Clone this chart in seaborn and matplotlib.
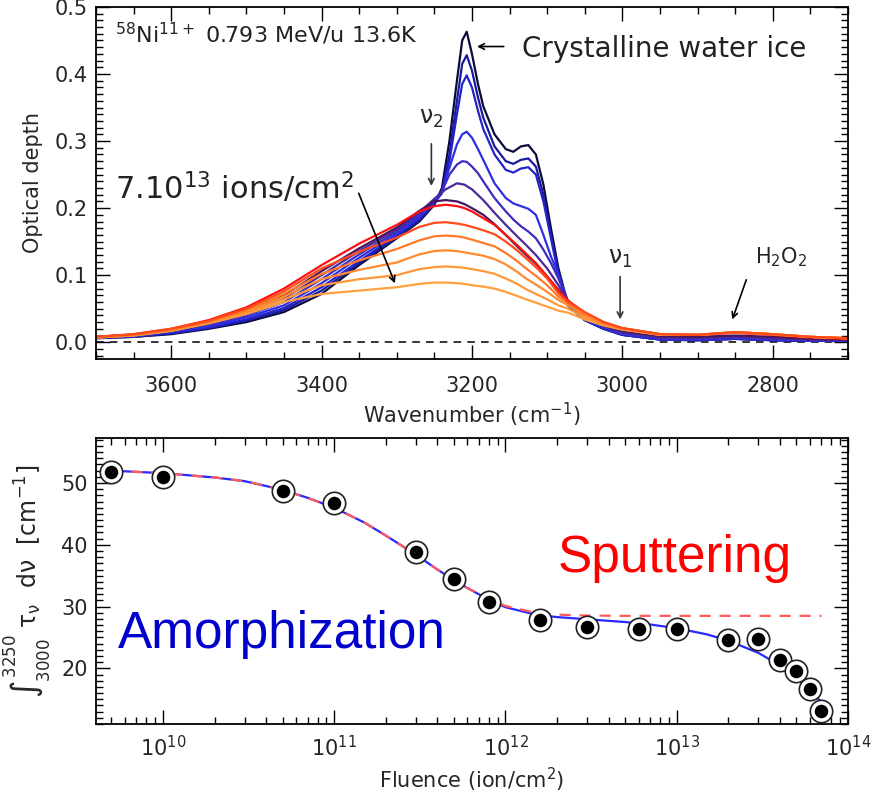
import numpy as np
import pandas as pd
import matplotlib
matplotlib.use("Agg")
import matplotlib.pyplot as plt
from matplotlib.ticker import MultipleLocator, LogLocator, NullFormatter, FormatStrFormatter
import seaborn as sns

# ---------------- data: top panel (optical depth spectra) ----------------
# grid for the amorphous / irradiated spectra
wavenumber = [3700, 3650, 3600, 3550, 3500, 3450, 3400, 3350, 3300, 3270,
              3250, 3235, 3220, 3210, 3200, 3185, 3170, 3155, 3140, 3128,
              3115, 3100, 3085, 3072, 3050, 3025, 3000, 2950, 2900, 2850,
              2800, 2750, 2700]
# finer grid for the crystalline spectra (sharp peak at 3210)
wavenumber_cryst = [3700, 3650, 3600, 3550, 3500, 3450, 3400, 3350, 3300, 3270,
                    3250, 3240, 3230, 3220, 3213, 3207, 3200, 3192, 3185, 3170,
                    3155, 3145, 3135, 3125, 3115, 3105, 3095, 3085, 3072, 3050,
                    3025, 3000, 2950, 2900, 2850, 2800, 2750, 2700]

od_c1 = [0.006, 0.008, 0.012, 0.020, 0.030, 0.045, 0.072, 0.115, 0.155, 0.180,
         0.205, 0.230, 0.300, 0.390, 0.450, 0.463, 0.430, 0.385, 0.352, 0.310,
         0.288, 0.284, 0.292, 0.294, 0.280, 0.235, 0.170, 0.110, 0.055, 0.033,
         0.020, 0.011, 0.004, 0.003, 0.005, 0.003, 0.002, 0.002]
od_c2 = [0.006, 0.008, 0.013, 0.021, 0.032, 0.048, 0.077, 0.118, 0.157, 0.182,
         0.207, 0.225, 0.280, 0.360, 0.415, 0.428, 0.405, 0.365, 0.335, 0.292,
         0.270, 0.266, 0.272, 0.274, 0.262, 0.220, 0.160, 0.105, 0.055, 0.033,
         0.020, 0.011, 0.004, 0.003, 0.005, 0.003, 0.002, 0.002]
od_c3 = [0.007, 0.009, 0.014, 0.022, 0.034, 0.051, 0.082, 0.121, 0.159, 0.184,
         0.208, 0.222, 0.270, 0.340, 0.385, 0.398, 0.380, 0.345, 0.318, 0.280,
         0.257, 0.253, 0.259, 0.261, 0.250, 0.210, 0.155, 0.100, 0.055, 0.033,
         0.020, 0.011, 0.004, 0.003, 0.005, 0.003, 0.002, 0.002]
od_c4 = [0.007, 0.009, 0.015, 0.024, 0.037, 0.055, 0.088, 0.126, 0.162, 0.187,
         0.210, 0.225, 0.260, 0.295, 0.310, 0.314, 0.305, 0.288, 0.272, 0.237,
         0.215, 0.207, 0.203, 0.199, 0.190, 0.160, 0.128, 0.100, 0.060, 0.034,
         0.021, 0.012, 0.005, 0.004, 0.006, 0.004, 0.003, 0.002]
od_c5 = [0.007, 0.010, 0.016, 0.026, 0.040, 0.060, 0.094, 0.131, 0.165, 0.190,
         0.212, 0.225, 0.250, 0.265, 0.270, 0.269, 0.262, 0.252, 0.240, 0.215,
         0.195, 0.183, 0.173, 0.165, 0.155, 0.138, 0.118, 0.095, 0.060, 0.035,
         0.022, 0.013, 0.006, 0.005, 0.007, 0.005, 0.003, 0.003]
od_c6 = [0.008, 0.011, 0.017, 0.028, 0.043, 0.065, 0.100, 0.136, 0.168, 0.193,
         0.214, 0.228, 0.237, 0.235, 0.228, 0.212, 0.193, 0.175, 0.158, 0.145,
         0.130, 0.110, 0.085, 0.060, 0.037, 0.024, 0.015, 0.007, 0.006, 0.008,
         0.006, 0.004, 0.003]
od_c7 = [0.008, 0.011, 0.018, 0.030, 0.046, 0.070, 0.106, 0.140, 0.171, 0.196,
         0.210, 0.212, 0.210, 0.206, 0.200, 0.190, 0.176, 0.160, 0.143, 0.130,
         0.117, 0.098, 0.078, 0.060, 0.039, 0.026, 0.017, 0.009, 0.008, 0.010,
         0.008, 0.005, 0.004]
od_red = [0.008, 0.012, 0.020, 0.033, 0.052, 0.080, 0.115, 0.147, 0.175, 0.195,
          0.203, 0.205, 0.203, 0.200, 0.195, 0.185, 0.175, 0.160, 0.145, 0.132,
          0.118, 0.098, 0.077, 0.062, 0.044, 0.030, 0.021, 0.012, 0.011, 0.014,
          0.011, 0.007, 0.005]
od_or1 = [0.008, 0.012, 0.020, 0.032, 0.050, 0.076, 0.110, 0.135, 0.156, 0.172,
          0.178, 0.179, 0.177, 0.175, 0.172, 0.167, 0.161, 0.150, 0.137, 0.125,
          0.112, 0.095, 0.073, 0.060, 0.045, 0.030, 0.021, 0.012, 0.011, 0.015,
          0.012, 0.008, 0.006]
od_or2 = [0.008, 0.011, 0.019, 0.031, 0.048, 0.072, 0.102, 0.122, 0.139, 0.152,
          0.158, 0.159, 0.158, 0.156, 0.153, 0.148, 0.143, 0.133, 0.121, 0.110,
          0.099, 0.085, 0.068, 0.058, 0.043, 0.029, 0.021, 0.012, 0.011, 0.015,
          0.012, 0.008, 0.006]
od_or3 = [0.007, 0.011, 0.018, 0.030, 0.046, 0.068, 0.094, 0.108, 0.119, 0.131,
          0.136, 0.137, 0.136, 0.134, 0.132, 0.129, 0.124, 0.116, 0.105, 0.095,
          0.086, 0.075, 0.063, 0.055, 0.040, 0.028, 0.020, 0.012, 0.011, 0.015,
          0.012, 0.008, 0.006]
od_or4 = [0.007, 0.010, 0.017, 0.029, 0.044, 0.064, 0.085, 0.094, 0.100, 0.109,
          0.112, 0.113, 0.112, 0.111, 0.109, 0.106, 0.102, 0.095, 0.087, 0.079,
          0.072, 0.064, 0.055, 0.050, 0.037, 0.026, 0.019, 0.011, 0.011, 0.015,
          0.012, 0.008, 0.006]
od_or5 = [0.007, 0.010, 0.017, 0.028, 0.042, 0.060, 0.072, 0.077, 0.082, 0.087,
          0.089, 0.089, 0.088, 0.087, 0.085, 0.083, 0.080, 0.075, 0.069, 0.064,
          0.059, 0.053, 0.047, 0.044, 0.034, 0.025, 0.019, 0.011, 0.011, 0.015,
          0.012, 0.008, 0.006]

spectra = [
    (wavenumber_cryst, od_c1, "#0b0b3b"), (wavenumber_cryst, od_c2, "#1a1a9c"),
    (wavenumber_cryst, od_c3, "#2323c8"), (wavenumber_cryst, od_c4, "#2e2ee6"),
    (wavenumber_cryst, od_c5, "#3a2cc4"), (wavenumber, od_c6, "#4a2a9a"),
    (wavenumber, od_c7, "#4a1560"), (wavenumber, od_red, "#ff1010"),
    (wavenumber, od_or5, "#ffa040"), (wavenumber, od_or4, "#ff9838"),
    (wavenumber, od_or3, "#ff8a30"), (wavenumber, od_or2, "#ff7a28"),
    (wavenumber, od_or1, "#ff4a1a"),
]

# ---------------- data: bottom panel (integrated band vs fluence) ----------------
fluence = [5e9, 1e10, 5e10, 1e11, 3e11, 5e11, 8e11, 1.6e12, 3e12, 6e12, 1e13,
           2e13, 3e13, 4e13, 5e13, 6e13, 7e13]
band_area = [51.8, 51.0, 48.75, 46.8, 38.8, 34.4, 30.8, 27.9, 26.7, 26.45, 26.3,
             24.55, 24.8, 21.4, 19.6, 16.6, 13.05]

fit_fluence = [5e9, 1e10, 2e10, 3e10, 5e10, 7e10, 1e11, 1.5e11, 2e11, 3e11, 4e11,
               5e11, 6e11, 8e11, 1e12, 1.5e12, 2e12, 3e12, 5e12, 7e12, 1e13,
               1.5e13, 2e13, 3e13, 4e13, 5e13, 6e13, 7e13]
fit_amorph = [52.0, 51.6, 50.9, 50.3, 48.9, 47.6, 46.0, 43.6, 41.5, 38.4, 36.0,
              34.3, 33.0, 31.2, 30.1, 29.0, 28.7, 28.55, 28.5, 28.5, 28.5,
              28.5, 28.5, 28.5, 28.5, 28.5, 28.5, 28.5]
fit_total = [52.0, 51.6, 50.9, 50.3, 48.9, 47.6, 46.0, 43.6, 41.5, 38.4, 36.0,
             34.3, 33.0, 31.1, 29.9, 28.7, 28.3, 27.95, 27.5, 27.1, 26.5,
             25.5, 24.5, 22.5, 20.5, 18.5, 16.5, 14.5]

# ---------------- style ----------------
sns.set_style("ticks")
plt.rcParams["font.family"] = ["DejaVu Sans"]
plt.rcParams["mathtext.default"] = "regular"
plt.rcParams["axes.linewidth"] = 1.3

fig = plt.figure(figsize=(8.78, 7.99), dpi=100)
ax1 = fig.add_axes([0.1093, 0.5507, 0.8565, 0.4406])
ax2 = fig.add_axes([0.1093, 0.0939, 0.8565, 0.358])

# ---------------- top panel ----------------
for wn, vals, col in spectra:
    df = pd.DataFrame({"wn": wn, "od": vals})
    sns.lineplot(data=df, x="wn", y="od", color=col, lw=1.6, ax=ax1,
                 legend=False, estimator=None)
ax1.axhline(0, color="black", lw=1.1, ls=(0, (5, 4)), zorder=1)
ax1.set_xlim(3700, 2700)
ax1.set_ylim(-0.025, 0.5)
ax1.xaxis.set_major_locator(MultipleLocator(200))
ax1.xaxis.set_minor_locator(MultipleLocator(50))
ax1.yaxis.set_major_locator(MultipleLocator(0.1))
ax1.yaxis.set_minor_locator(MultipleLocator(0.01))
ax1.yaxis.set_major_formatter(FormatStrFormatter("%.1f"))
ax1.set_xlabel("Wavenumber (cm$^{-1}$)", fontsize=15, labelpad=4)
ax1.set_ylabel("Optical depth", fontsize=15, labelpad=8)

ax1.text(3675, 0.446, "$^{58}$Ni$^{11+}$ 0.793 MeV/u 13.6K", fontsize=16,
         va="baseline", ha="left", color="#222222")
ax1.annotate("", xy=(3197, 0.441), xytext=(3154, 0.441),
             arrowprops=dict(arrowstyle="->", lw=1.2, color="black"))
ax1.text(3134, 0.426, "Crystalline water ice", fontsize=20, va="baseline",
         ha="left", color="#222222")
ax1.text(3675, 0.2125, "7.10$^{13}$ ions/cm$^{2}$", fontsize=22, va="baseline",
         ha="left", color="#222222")
ax1.annotate("", xy=(3301, 0.084), xytext=(3352, 0.226),
             arrowprops=dict(arrowstyle="->", lw=1.2, color="black"))
ax1.text(3254, 0.325, r"$\nu_2$", fontsize=17, va="baseline", ha="center")
ax1.annotate("", xy=(3254, 0.229), xytext=(3254, 0.300),
             arrowprops=dict(arrowstyle="->", lw=1.2, color="#333333"))
ax1.text(3003, 0.117, r"$\nu_1$", fontsize=17, va="baseline", ha="center")
ax1.annotate("", xy=(3003, 0.030), xytext=(3003, 0.102),
             arrowprops=dict(arrowstyle="->", lw=1.2, color="#333333"))
ax1.text(2824, 0.117, "H$_2$O$_2$", fontsize=15, va="baseline", ha="left")
ax1.annotate("", xy=(2855, 0.030), xytext=(2834, 0.097),
             arrowprops=dict(arrowstyle="->", lw=1.2, color="black"))

# ---------------- bottom panel ----------------
ax2.set_xscale("log")
dfit = pd.DataFrame({"F": fit_fluence, "tot": fit_total, "am": fit_amorph})
sns.lineplot(data=dfit, x="F", y="tot", color="#2828ff", lw=1.6, ax=ax2,
             legend=False, estimator=None, zorder=3)
sns.lineplot(data=dfit, x="F", y="am", color="#ff5a5a", lw=1.6, ax=ax2,
             legend=False, estimator=None, zorder=3)
ax2.lines[-1].set_linestyle((0, (5, 4)))
dpts = pd.DataFrame({"F": fluence, "A": band_area})
sns.scatterplot(data=dpts, x="F", y="A", s=260, marker="o", facecolor="white",
                edgecolor="#222222", linewidth=1.2, ax=ax2, zorder=4, legend=False)
sns.scatterplot(data=dpts, x="F", y="A", s=95, marker="o", color="black",
                edgecolor="black", linewidth=0, ax=ax2, zorder=5, legend=False)
ax2.set_xlim(4.06e9, 1e14)
ax2.set_ylim(11, 57.3)
ax2.xaxis.set_major_locator(LogLocator(base=10, numticks=10))
ax2.xaxis.set_minor_locator(LogLocator(base=10, subs=np.arange(2, 10), numticks=20))
ax2.xaxis.set_minor_formatter(NullFormatter())
ax2.yaxis.set_major_locator(MultipleLocator(10))
ax2.yaxis.set_minor_locator(MultipleLocator(1))
ax2.set_xlabel("Fluence (ion/cm$^2$)", fontsize=15, labelpad=4)
ax2.set_ylabel(r"$\int_{3000}^{3250}\ \tau_\nu\ \ d\nu\ \ [cm^{-1}]$", fontsize=17,
               labelpad=6)

ax2.text(5.46e9, 23.26, "Amorphization", fontsize=37, color="#0000cc",
         family=["Liberation Sans", "DejaVu Sans"], va="baseline", ha="left")
ax2.text(2.01e12, 35.6, "Sputtering", fontsize=37, color="#ff0000",
         family=["Liberation Sans", "DejaVu Sans"], va="baseline", ha="left")

for ax in (ax1, ax2):
    ax.tick_params(which="both", direction="in", top=True, right=True,
                   labelsize=15, color="black", width=1.0)
    ax.tick_params(which="major", length=10)
    ax.tick_params(which="minor", length=5)
    for sp in ax.spines.values():
        sp.set_color("black")
ax1.tick_params(axis="x", which="both", pad=12)
ax1.tick_params(axis="y", which="both", pad=6)
ax2.tick_params(axis="x", which="both", pad=8)
ax2.tick_params(axis="y", which="both", pad=6)

fig.savefig("out.png", dpi=100)
